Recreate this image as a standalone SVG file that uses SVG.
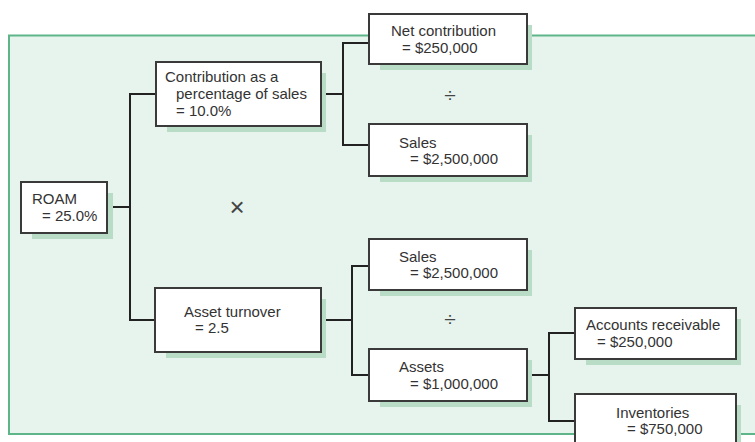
<svg xmlns="http://www.w3.org/2000/svg" width="755" height="442" viewBox="0 0 755 442">
  <style>
    .panel { fill: #e6f4ed; stroke: #5fb58a; stroke-width: 2; }
    .shadow { fill: #b9dcc7; }
    .box { fill: #ffffff; stroke: #3a3a3a; stroke-width: 2; }
    .wire { fill: none; stroke: #222222; stroke-width: 2; }
    text { font-family: "Liberation Sans", Arial, sans-serif; font-size: 15px; fill: #333333; }
    .op { fill: #444444; text-anchor: middle; }
    .times { font-size: 26px; }
    .div { font-size: 21px; }
  </style>

  <!-- background panel -->
  <rect class="panel" x="9" y="35.5" width="760" height="398.5"/>

  <!-- connectors -->
  <g id="connectors">
    <path class="wire" d="M107 207 H130 M156 94 H130 V320 H155"/>
    <path class="wire" d="M321 94 H343 M369 43 H343 V145 H369"/>
    <path class="wire" d="M321 320 H352 M369 266 H352 V375 H369"/>
    <path class="wire" d="M527 375 H549 M575 333 H549 V421 H575"/>
  </g>

  <!-- operators -->
  <text class="op times" x="237" y="216">×</text>
  <text class="op div" x="450" y="102">÷</text>
  <text class="op div" x="450" y="326">÷</text>

  <g id="roam">
    <path class="shadow" d="M32 193 H113 V239 H32 Z"/>
    <rect class="box" x="21" y="182" width="86" height="51"/>
    <text x="32" y="204">ROAM</text>
    <text x="42" y="221">= 25.0%</text>
  </g>

  <g id="contribution">
    <path class="shadow" d="M167 73 H326 V132 H167 Z"/>
    <rect class="box" x="156" y="62" width="165" height="64"/>
    <text x="165" y="82">Contribution as a</text>
    <text x="176" y="99">percentage of sales</text>
    <text x="176" y="116">= 10.0%</text>
  </g>

  <g id="asset-turnover">
    <path class="shadow" d="M166 299 H326 V358 H166 Z"/>
    <rect class="box" x="155" y="288" width="166" height="64"/>
    <text x="184" y="317">Asset turnover</text>
    <text x="195" y="333">= 2.5</text>
  </g>

  <g id="net-contribution">
    <path class="shadow" d="M380 25 H532 V70 H380 Z"/>
    <rect class="box" x="369" y="14" width="158" height="50"/>
    <text x="391" y="36">Net contribution</text>
    <text x="402" y="53">= $250,000</text>
  </g>

  <g id="sales-top">
    <path class="shadow" d="M380 135 H532 V182 H380 Z"/>
    <rect class="box" x="369" y="124" width="158" height="52"/>
    <text x="399" y="148">Sales</text>
    <text x="410" y="164">= $2,500,000</text>
  </g>

  <g id="sales-bottom">
    <path class="shadow" d="M380 250 H532 V296 H380 Z"/>
    <rect class="box" x="369" y="239" width="158" height="51"/>
    <text x="399" y="262">Sales</text>
    <text x="410" y="278">= $2,500,000</text>
  </g>

  <g id="assets">
    <path class="shadow" d="M380 360 H532 V407 H380 Z"/>
    <rect class="box" x="369" y="349" width="158" height="52"/>
    <text x="399" y="372">Assets</text>
    <text x="410" y="389">= $1,000,000</text>
  </g>

  <g id="accounts-receivable">
    <path class="shadow" d="M586 319 H741 V365 H586 Z"/>
    <rect class="box" x="575" y="308" width="161" height="51"/>
    <text x="586" y="330">Accounts receivable</text>
    <text x="597" y="347">= $250,000</text>
  </g>

  <g id="inventories">
    <path class="shadow" d="M586 405 H741 V460 H586 Z"/>
    <rect class="box" x="575" y="394" width="161" height="60"/>
    <text x="616" y="418">Inventories</text>
    <text x="627" y="434">= $750,000</text>
  </g>
</svg>
